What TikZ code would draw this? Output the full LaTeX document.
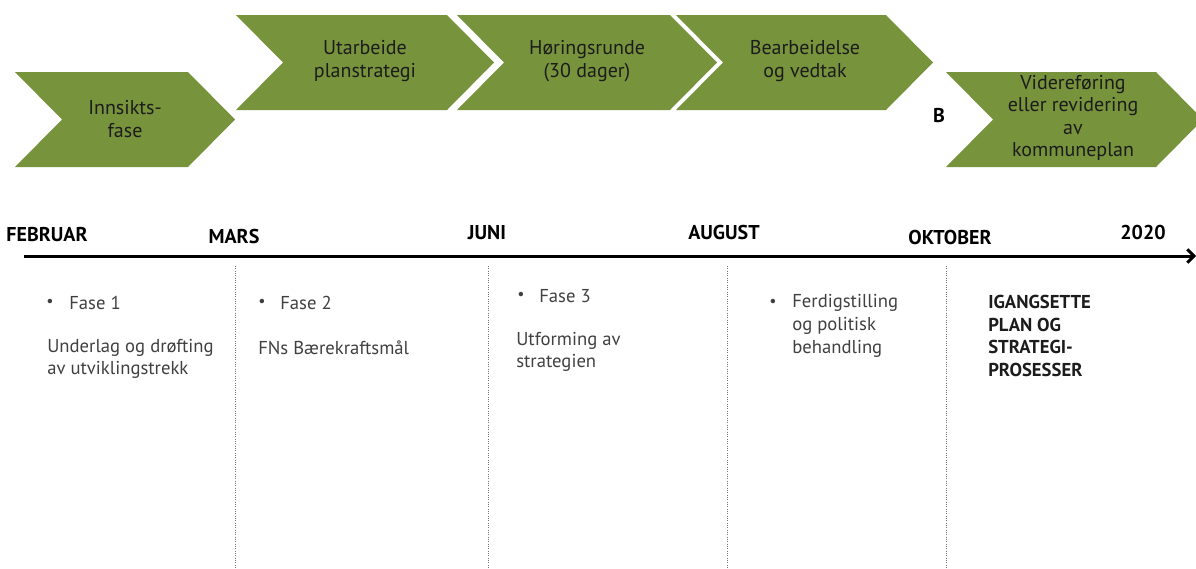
\documentclass[tikz,border=0pt]{standalone}
\usepackage{fontspec}
\setmainfont{PT Sans}
\usetikzlibrary{arrows.meta}
\definecolor{chevgreen}{HTML}{77933C}
\definecolor{bodygray}{HTML}{404040}
\definecolor{darktext}{HTML}{1C1C1C}

\begin{document}
\begin{tikzpicture}
        [x=0.75pt,y=-0.75pt,
        chev/.style={fill=chevgreen},
        chevtext/.style={align=center,text=darktext,inner sep=0pt,font=\fontsize{15}{16.8}\selectfont},
        month/.style={inner sep=0pt,font=\bfseries\fontsize{15}{17}\selectfont},
        body/.style={anchor=west,align=left,text=bodygray,inner sep=0pt,font=\fontsize{14}{17}\selectfont},
        dot/.style={text=bodygray,inner sep=0pt,font=\fontsize{12}{12}\selectfont},
        divider/.style={densely dotted,black!55,line width=0.75pt},
        arr/.style={-{Straight Barb[length=5pt,width=10pt]},line width=2.25pt}]
        \useasboundingbox (0,0) rectangle (1196,568);
        \clip (0,0) rectangle (1196,568);
        % chevrons
        \fill[chev] (15,72) -- (188,72) -- (235,119.5) -- (188,167) -- (15,167) -- (62,119.5) -- cycle;
        \fill[chev] (236,15) -- (447,15) -- (494,62.5) -- (447,110) -- (236,110) -- (283,62.5) -- cycle;
        \fill[chev] (457,15) -- (670,15) -- (717,62.5) -- (670,110) -- (457,110) -- (504,62.5) -- cycle;
        \fill[chev] (676,15) -- (886,15) -- (933,62.5) -- (886,110) -- (676,110) -- (723,62.5) -- cycle;
        \fill[chev] (946,72) -- (1156,72) -- (1203,119.5) -- (1156,167) -- (946,167) -- (993,119.5) -- cycle;
        \node (innsikt) at (125,119) [chevtext] {Innsikts-\\fase};
        \node (utarbeide) at (365,61) [chevtext] {Utarbeide\\planstrategi};
        \node (horing) at (587,61) [chevtext] {Høringsrunde\\(30 dager)};
        \node (bearbeid) at (805,61) [chevtext] {Bearbeidelse\\og vedtak};
        \node (videre) at (1073,118) [chevtext] {Videreføring\\eller revidering\\av\\kommuneplan};
        \node (b) at (939,115) [month,text=black] {B};
        % timeline
        \node (februar) at (47,235) [month] {FEBRUAR};
        \node (mars) at (234,236) [month] {MARS};
        \node (juni) at (487,233) [month] {JUNI};
        \node (august) at (724,232) [month] {AUGUST};
        \node (oktober) at (950,237) [month] {OKTOBER};
        \node (aar) at (1143,232) [month] {2020};
        \coordinate (tstart) at (24,256);
        \coordinate (tend) at (1196,256);
        \draw[arr] (tstart) -- (tend);
        \coordinate (d1top) at (235,266);
        \coordinate (d1bot) at (235,568);
        \coordinate (d2top) at (488,266);
        \coordinate (d2bot) at (488,568);
        \coordinate (d3top) at (727,266);
        \coordinate (d3bot) at (727,568);
        \coordinate (d4top) at (946,266);
        \coordinate (d4bot) at (946,568);
        \draw[divider] (d1top) -- (d1bot);
        \draw[divider] (d2top) -- (d2bot);
        \draw[divider] (d3top) -- (d3bot);
        \draw[divider] (d4top) -- (d4bot);
        % phases
        \node (dot1) at (50,303) [dot] {\textbullet};
        \node (fase1) at (69,303) [body] {Fase 1};
        \node (underlag) at (47,359) [body] {Underlag og drøfting\\av utviklingstrekk};
        \node (dot2) at (262,303) [dot] {\textbullet};
        \node (fase2) at (280,303) [body] {Fase 2};
        \node (fns) at (258,348) [body] {FNs Bærekraftsmål};
        \node (dot3) at (521,296) [dot] {\textbullet};
        \node (fase3) at (539,296) [body] {Fase 3};
        \node (utforming) at (516,352) [body] {Utforming av\\strategien};
        \node (dot4) at (773,303) [dot] {\textbullet};
        \node (ferdig) at (792,326) [body] {Ferdigstilling\\og politisk\\behandling};
        \node (igang) at (988,336) [body,text=darktext,font=\bfseries\fontsize{14}{17}\selectfont] {IGANGSETTE\\PLAN OG\\STRATEGI-\\PROSESSER};
     \end{tikzpicture}
\end{document}
